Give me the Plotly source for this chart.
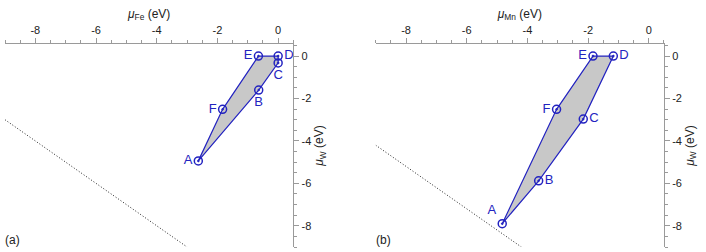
import plotly.graph_objects as go

# ---- data ----
labels = ["A", "B", "C", "D", "E", "F"]

# panel (a): mu_Fe vs mu_W
a_mu_x = [-2.63, -0.64, 0.0, 0.0, -0.65, -1.83]
a_mu_w = [-4.94, -1.60, -0.32, 0.0, 0.0, -2.51]
a_text_pos = ["middle left", "bottom center", "bottom center", "middle right", "middle left", "middle left"]
a_limit_x = [-9.0, -3.0]
a_limit_w = [-3.0, -9.0]

# panel (b): mu_Mn vs mu_W
b_mu_x = [-4.83, -3.63, -2.16, -1.17, -1.84, -3.04]
b_mu_w = [-7.90, -5.88, -2.97, 0.0, 0.0, -2.51]
b_text_pos = ["top left", "middle right", "middle right", "middle right", "middle left", "middle left"]
b_limit_x = [-9.0, -4.2]
b_limit_w = [-4.2, -9.0]

tick_vals = [-8, -6, -4, -2, 0]
tick_text = ["-8", "-6", "-4", "-2", "0"]
x_range = [-9, 0.5]
y_range = [-9, 0.57]

BLUE = "#2323c0"
FILL = "#c8c8c8"
AXC = "#9a9a9a"
FONT = "Liberation Sans, Arial, sans-serif"

fig = go.Figure()


def add_panel(xs, ws, tpos, lx, lw, xa, ya):
    fig.add_trace(go.Scatter(
        x=xs + xs[:1], y=ws + ws[:1], mode="lines", fill="toself",
        fillcolor=FILL, line=dict(color=BLUE, width=1.2),
        xaxis=xa, yaxis=ya, showlegend=False, hoverinfo="skip"))
    fig.add_trace(go.Scatter(
        x=lx, y=lw, mode="lines", line=dict(color="#222", width=1, dash="1px,2px"),
        xaxis=xa, yaxis=ya, showlegend=False, hoverinfo="skip"))
    fig.add_trace(go.Scatter(
        x=xs, y=ws, mode="markers+text", text=labels, textposition=tpos,
        textfont=dict(color=BLUE, size=13, family=FONT),
        marker=dict(symbol="circle-open-dot", size=8, color=BLUE,
                    line=dict(color=BLUE, width=1.5)),
        xaxis=xa, yaxis=ya, showlegend=False))


add_panel(a_mu_x, a_mu_w, a_text_pos, a_limit_x, a_limit_w, "x", "y")
add_panel(b_mu_x, b_mu_w, b_text_pos, b_limit_x, b_limit_w, "x2", "y2")

xcommon = dict(range=x_range, side="top", showline=True, linecolor=AXC, linewidth=1,
               ticks="outside", ticklen=5, tickcolor=AXC, tickmode="array",
               tickvals=tick_vals, ticktext=tick_text, showgrid=False, zeroline=False,
               tickfont=dict(size=11, color="#222", family=FONT), automargin=False,
               minor=dict(tickmode="linear", tick0=0, dtick=0.5, ticks="outside",
                          ticklen=3, tickcolor=AXC, showgrid=False),
               title_font=dict(size=12, color="#222", family=FONT), title_standoff=2)
ycommon = dict(range=y_range, side="right", showline=True, linecolor=AXC, linewidth=1,
               ticks="outside", ticklen=5, tickcolor=AXC, tickmode="array",
               tickvals=tick_vals, ticktext=tick_text, showgrid=False, zeroline=False,
               tickfont=dict(size=11, color="#222", family=FONT), automargin=False,
               minor=dict(tickmode="linear", tick0=0, dtick=0.5, ticks="outside",
                          ticklen=3, tickcolor=AXC, showgrid=False),
               title_font=dict(size=12, color="#222", family=FONT), title_standoff=4)

fig.update_layout(
    width=706, height=252,
    margin=dict(l=5, r=42, t=44, b=5),
    paper_bgcolor="white", plot_bgcolor="white",
    font=dict(family=FONT),
    xaxis=dict(domain=[0, 0.4375], anchor="y",
               title=dict(text="<i>μ</i><sub>Fe</sub> (eV)"), **xcommon),
    yaxis=dict(domain=[0, 1], anchor="x",
               title=dict(text="<i>μ</i><sub>W</sub> (eV)"), **ycommon),
    xaxis2=dict(domain=[0.5625, 1], anchor="y2",
                title=dict(text="<i>μ</i><sub>Mn</sub> (eV)"), **xcommon),
    yaxis2=dict(domain=[0, 1], anchor="x2",
                title=dict(text="<i>μ</i><sub>W</sub> (eV)"), **ycommon),
    annotations=[
        dict(text="(a)", xref="x domain", yref="y domain", x=0, y=0,
             xanchor="left", yanchor="bottom", showarrow=False, xshift=-2, yshift=-2,
             font=dict(size=12, color="#222", family=FONT)),
        dict(text="(b)", xref="x2 domain", yref="y2 domain", x=0, y=0,
             xanchor="left", yanchor="bottom", showarrow=False, xshift=-2, yshift=-2,
             font=dict(size=12, color="#222", family=FONT)),
    ],
)

fig.write_html("out.html", config={"displayModeBar": False},
               post_script="document.body.style.margin='0px';document.body.style.padding='0px';")
